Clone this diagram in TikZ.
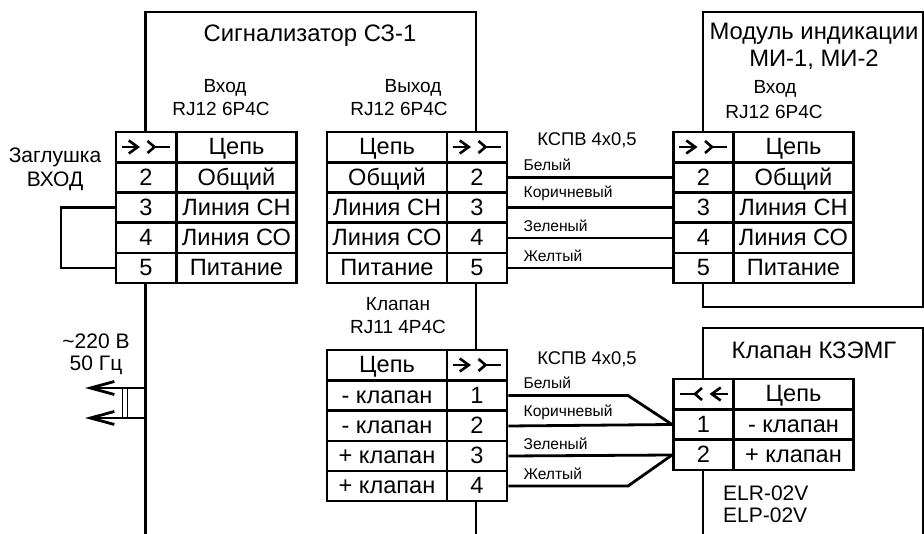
\documentclass[tikz,border=0pt]{standalone}
\usepackage{fontspec}
\setmainfont{Liberation Sans}
\usetikzlibrary{arrows.meta}
\tikzstyle{frame} = [draw, line width=2.8pt]
\tikzstyle{cell} = [rectangle, draw, fill=white, line width=2.8pt, inner sep=0pt, minimum height=30pt,
    text height=15.5pt, text depth=0pt, text centered, font=\fontsize{23.6}{27}\selectfont]
\tikzstyle{pincell} = [cell, minimum width=60pt]
\tikzstyle{namecell} = [cell, minimum width=120pt]
\tikzstyle{titletext} = [inner sep=0pt, font=\fontsize{23.8}{27}\selectfont]
\tikzstyle{marktext} = [inner sep=0pt, font=\fontsize{21}{25}\selectfont]
\tikzstyle{porttext} = [inner sep=0pt, font=\fontsize{19}{23}\selectfont]
\tikzstyle{cabletext} = [inner sep=0pt, font=\fontsize{18.4}{22}\selectfont]
\tikzstyle{wire} = [draw, line width=2.8pt]
\tikzstyle{wirename} = [pos=0.085, above right, inner sep=0pt, yshift=5pt, font=\fontsize{15.6}{18}\selectfont]
\tikzset{plug/.pic={
    \draw [line width=2.6pt, -{Straight Barb[length=9pt,width=13pt]}] (-24.5,0) -- (-6,0);
    \draw [line width=2.6pt] (1.5,-6) -- (8.5,0) -- (1.5,6);
    \draw [line width=2.6pt] (8.5,0) -- (23.5,0);
}}

\begin{document}
\begin{tikzpicture}[x=1pt, y=-1pt]
    \useasboundingbox (0,0) rectangle (924,534);
    % Draw boxes
    \path [frame] (145.5,534) -- (145.5,12) -- (476,12) -- (476,534);
    \path [frame] (703,283) -- (703,12) -- (923,12) -- (923,307) -- (703,307) -- cycle;
    \path [frame] (703,534) -- (703,328) -- (923,328) -- (923,534);
    % Place titles
    \node [titletext] at (310,36) (signal) {Сигнализатор СЗ-1};
    \node [porttext] at (225,88) (intitle) {Вход};
    \node [porttext] at (221,109) (intype) {RJ12 6P4C};
    \node [porttext] at (413,88) (outtitle) {Выход};
    \node [porttext] at (399,109) (outtype) {RJ12 6P4C};
    \node [porttext] at (398,304) (valvetitle) {Клапан};
    \node [porttext] at (398,327) (valvetype) {RJ11 4P4C};
    \node [titletext] at (814,34) (module) {Модуль индикации};
    \node [titletext] at (814,60) (modkind) {МИ-1, МИ-2};
    \node [porttext] at (775,89) (modtitle) {Вход};
    \node [porttext] at (774,112) (modtype) {RJ12 6P4C};
    \node [titletext] at (814,350) (gate) {Клапан КЗЭМГ};
    \node [marktext, anchor=west] at (723,493) (elr) {ELR-02V};
    \node [marktext, anchor=west] at (723,515) (elp) {ELP-02V};
    \node [marktext] at (55,157) (stub) {Заглушка};
    \node [marktext] at (55,181) (stubin) {ВХОД};
    \node [marktext] at (96,341) (mains) {\textasciitilde220 В};
    \node [marktext] at (96,365) (hertz) {50 Гц};
    \node [cabletext] at (587,140) (cableup) {КСПВ 4х0,5};
    \node [cabletext] at (587,359) (cabledown) {КСПВ 4х0,5};
    % Place input table
    \node [pincell] at (146,147) (inh) {};
    \node [namecell] at (236.5,147) (inhn) {Цепь};
    \node [pincell] at (146,177.5) (in2) {2};
    \node [namecell] at (236.5,177.5) (in2n) {Общий};
    \node [pincell] at (146,207.5) (in3) {3};
    \node [namecell] at (236.5,207.5) (in3n) {Линия СН};
    \node [pincell] at (146,238) (in4) {4};
    \node [namecell] at (236.5,238) (in4n) {Линия СО};
    \node [pincell] at (146,268) (in5) {5};
    \node [namecell] at (236.5,268) (in5n) {Питание};
    % Place output table
    \node [namecell] at (387,147) (outhn) {Цепь};
    \node [pincell] at (477,147) (outh) {};
    \node [namecell] at (387,177.5) (out2n) {Общий};
    \node [pincell] at (477,177.5) (out2) {2};
    \node [namecell] at (387,207.5) (out3n) {Линия СН};
    \node [pincell] at (477,207.5) (out3) {3};
    \node [namecell] at (387,238) (out4n) {Линия СО};
    \node [pincell] at (477,238) (out4) {4};
    \node [namecell] at (387,268) (out5n) {Питание};
    \node [pincell] at (477,268) (out5) {5};
    % Place module table
    \node [pincell] at (703.5,147) (modh) {};
    \node [namecell] at (793.5,147) (modhn) {Цепь};
    \node [pincell] at (703.5,177.5) (mod2) {2};
    \node [namecell] at (793.5,177.5) (mod2n) {Общий};
    \node [pincell] at (703.5,207.5) (mod3) {3};
    \node [namecell] at (793.5,207.5) (mod3n) {Линия СН};
    \node [pincell] at (703.5,238) (mod4) {4};
    \node [namecell] at (793.5,238) (mod4n) {Линия СО};
    \node [pincell] at (703.5,268) (mod5) {5};
    \node [namecell] at (793.5,268) (mod5n) {Питание};
    % Place valve output table
    \node [namecell] at (387,365) (vlvhn) {Цепь};
    \node [pincell] at (477,365) (vlvh) {};
    \node [namecell] at (387,395.5) (vlv1n) {- клапан};
    \node [pincell] at (477,395.5) (vlv1) {1};
    \node [namecell] at (387,426) (vlv2n) {- клапан};
    \node [pincell] at (477,426) (vlv2) {2};
    \node [namecell] at (387,456) (vlv3n) {+ клапан};
    \node [pincell] at (477,456) (vlv3) {3};
    \node [namecell] at (387,486) (vlv4n) {+ клапан};
    \node [pincell] at (477,486) (vlv4) {4};
    % Place valve table
    \node [pincell] at (703.5,394) (gateh) {};
    \node [namecell] at (793.5,394) (gatehn) {Цепь};
    \node [pincell] at (703.5,424.5) (gate1) {1};
    \node [namecell] at (793.5,424.5) (gate1n) {- клапан};
    \node [pincell] at (703.5,455) (gate2) {2};
    \node [namecell] at (793.5,455) (gate2n) {+ клапан};
    % Connector marks
    \pic at (inh) {plug};
    \pic at (outh) {plug};
    \pic at (modh) {plug};
    \pic [xscale=-1] at (gateh) {plug};
    \pic at (vlvh) {plug};
    % Draw edges
    \coordinate (jump) at (61,238);
    \path [wire] (in3.west) -| (jump) |- (in5.west);
    \path [wire] (out2.east) -- node[wirename] {Белый} (mod2.west);
    \path [wire] (out3.east) -- node[wirename] {Коричневый} (mod3.west);
    \path [wire] (out4.east) -- node[wirename] {Зеленый} (mod4.west);
    \path [wire] (out5.east) -- node[wirename] {Желтый} (mod5.west);
    \coordinate (bendup) at (628,395.5);
    \coordinate (benddown) at (628,486);
    \path [wire] (vlv1.east) -- node[wirename, pos=0.115] {Белый} (bendup) -- (gate1.west);
    \path [wire] (vlv2.east) -- node[wirename] {Коричневый} (gate1.west);
    \path [wire] (vlv3.east) -- node[wirename] {Зеленый} (gate2.west);
    \path [wire] (vlv4.east) -- node[wirename, pos=0.115] {Желтый} (benddown) -- (gate2.west);
    % Mains lead
    \coordinate (leadup) at (145.5,388);
    \coordinate (leaddown) at (145.5,418);
    \coordinate (tipup) at (85,388);
    \coordinate (tipdown) at (85,418);
    \path [wire, -{Straight Barb[length=24pt,width=13pt]}] (leadup) -- (tipup);
    \path [wire, -{Straight Barb[length=24pt,width=13pt]}] (leaddown) -- (tipdown);
    \draw [line width=0.9pt] (122,388) -- (122,418);
    \draw [line width=0.9pt] (127.5,388) -- (127.5,418);
\end{tikzpicture}
\end{document}
